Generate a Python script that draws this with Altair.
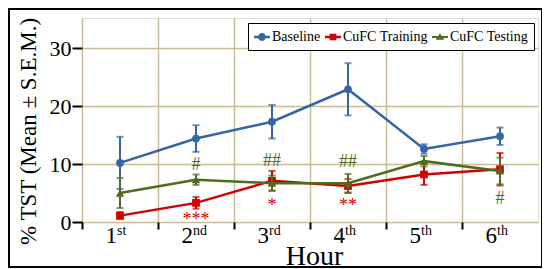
import altair as alt
import pandas as pd

hours = ["1", "2", "3", "4", "5", "6"]
sups = ["st", "nd", "rd", "th", "th", "th"]
series = ["Baseline", "CuFC Training", "CuFC Testing"]
colors = ["#3565a3", "#d20000", "#4e6b1f"]

baseline_mean = [10.2, 14.4, 17.3, 22.9, 12.6, 14.8]
baseline_sem = [4.5, 2.3, 2.9, 4.5, 0.8, 1.5]
train_mean = [1.1, 3.3, 7.1, 6.2, 8.2, 9.1]
train_sem = [0.6, 1.0, 1.7, 1.2, 1.8, 2.8]
test_mean = [5.0, 7.3, 6.7, 6.7, 10.5, 8.8]
test_sem = [2.6, 0.9, 1.3, 1.6, 0.9, 2.3]

ann_hour = ["2", "3", "4", "2", "3", "4", "6"]
ann_series = ["CuFC Training", "CuFC Training", "CuFC Training",
              "CuFC Testing", "CuFC Testing", "CuFC Testing", "CuFC Testing"]
ann_value = [0.4, 2.7, 2.7, 9.8, 10.5, 10.3, 4.0]
ann_text = ["***", "*", "**", "#", "##", "##", "#"]

rows = []
for s, m, e in [(series[0], baseline_mean, baseline_sem),
                (series[1], train_mean, train_sem),
                (series[2], test_mean, test_sem)]:
    for h, mv, ev in zip(hours, m, e):
        rows.append({"series": s, "hour": h, "mean": mv, "lo": mv - ev, "hi": mv + ev})
df = pd.DataFrame(rows)
ann = pd.DataFrame({"hour": ann_hour, "series": ann_series, "v": ann_value, "t": ann_text})
labels = pd.DataFrame({"hour": hours, "sup": sups})

W, H = 456, 204
serif = "Liberation Serif"

xsc = alt.Scale(domain=hours, paddingInner=0, paddingOuter=0)
ysc = alt.Scale(domain=[0, 35.2], nice=False)
csc = alt.Scale(domain=series, range=colors)

xax = alt.Axis(title="Hour", labels=False, bandPosition=0, tickSize=7, tickWidth=2,
               tickColor="black", domain=False, grid=True, gridColor="#c9bd95",
               gridWidth=1.5, titleFont=serif, titleFontSize=28, titleFontWeight="normal",
               titleBaseline="alphabetic", titleY=42, titleX=232, titleColor="black")
yax = alt.Axis(title="% TST (Mean \u00b1 S.E.M.)", values=[0, 10, 20, 30], tickSize=10,
               tickWidth=2, tickColor="black", domain=False, grid=True, gridColor="#c9bd95",
               gridWidth=1.5, labelFont=serif, labelFontSize=22, labelColor="black",
               labelPadding=1, titleFont=serif, titleFontSize=23, titleFontWeight="normal",
               titleColor="black", titleX=-42, titleY=113)

base = alt.Chart(df)
x = alt.X("hour:N", scale=xsc, axis=xax, sort=hours)

legend_paths = {
    "Baseline": "M-1,-0.16L-0.44,-0.16A0.46,0.46 0 0,1 0.44,-0.16L1,-0.16L1,0.16L0.44,0.16A0.46,0.46 0 0,1 -0.44,0.16L-1,0.16Z",
    "CuFC Training": "M-1,-0.16L-0.42,-0.16L-0.42,-0.42L0.42,-0.42L0.42,-0.16L1,-0.16L1,0.16L0.42,0.16L0.42,0.42L-0.42,0.42L-0.42,0.16L-1,0.16Z",
    "CuFC Testing": "M-1,-0.14L-0.2,-0.14L0,-0.5L0.2,-0.14L1,-0.14L1,0.14L0.45,0.14L0.5,0.35L-0.5,0.35L-0.45,0.14L-1,0.14Z",
}

leg = dict(title=None, orient="none", legendX=166, legendY=5, direction="horizontal", columns=3,
           fillColor="white", strokeColor="black", padding=6, labelFont=serif, labelFontSize=14,
           labelColor="black", symbolSize=256, symbolStrokeWidth=0, columnPadding=4, labelOffset=2)

legend_layer = base.transform_filter("datum.mean > 1000").mark_point(filled=True, opacity=1).encode(
    x=alt.X("hour:N", scale=xsc, axis=xax, sort=hours),
    y=alt.Y("mean:Q", scale=ysc, axis=yax),
    color=alt.Color("series:N", scale=csc, legend=alt.Legend(**leg)),
    shape=alt.Shape("series:N", scale=alt.Scale(domain=series, range=[legend_paths[s] for s in series]),
                    legend=alt.Legend(**leg)),
)

layers = [legend_layer]
shapes = ["circle", "square", "triangle-up"]
sizes = [60, 60, 70]
for s, shp, sz in zip(series, shapes, sizes):
    d = base.transform_filter(alt.datum.series == s)
    col = colors[series.index(s)]
    layers.append(d.mark_line(strokeWidth=2.5, color=col).encode(x=x, y=alt.Y("mean:Q", scale=ysc, axis=yax)))
    layers.append(d.mark_rule(strokeWidth=2, color=col).encode(x=x, y=alt.Y("lo:Q", scale=ysc, axis=yax), y2="hi:Q"))
    layers.append(d.mark_tick(thickness=2, size=7, color=col, orient="horizontal").encode(x=x, y=alt.Y("lo:Q", scale=ysc, axis=yax)))
    layers.append(d.mark_tick(thickness=2, size=7, color=col, orient="horizontal").encode(x=x, y=alt.Y("hi:Q", scale=ysc, axis=yax)))
    layers.append(d.mark_point(shape=shp, size=sz, filled=True, opacity=1, color=col).encode(x=x, y=alt.Y("mean:Q", scale=ysc, axis=yax)))

layers.append(alt.Chart(ann).mark_text(font=serif, fontSize=18, baseline="middle").encode(
    x=alt.X("hour:N", scale=xsc, sort=hours, axis=xax), y=alt.Y("v:Q", scale=ysc, axis=yax),
    text="t:N", color=alt.Color("series:N", scale=csc, legend=None)))

layers.append(alt.Chart(labels).mark_text(font=serif, fontSize=23, align="right", baseline="alphabetic", dx=-3, color="black").encode(
    x=alt.X("hour:N", scale=xsc, sort=hours, axis=xax), y=alt.value(H + 21), text="hour:N"))
layers.append(alt.Chart(labels).mark_text(font=serif, fontSize=14, align="left", baseline="alphabetic", dx=-3, color="black").encode(
    x=alt.X("hour:N", scale=xsc, sort=hours, axis=xax), y=alt.value(H + 13), text="sup:N"))

frame = alt.Chart(labels).mark_rect(fill=None, stroke="black", strokeWidth=2).encode(
    x=alt.value(-73), x2=alt.value(W + 4), y=alt.value(-9), y2=alt.value(H + 45))
layers.append(frame)

chart = alt.layer(*layers).properties(
    width=W, height=H, autosize=alt.AutoSizeParams(type="none"),
    padding={"left": 74, "top": 10, "right": 4, "bottom": 47},
).configure_view(stroke="black", strokeWidth=2.5).configure(background="white").configure_legend(
    labelFont=serif, labelFontSize=14, labelColor="black"
).configure_axis(titleFont=serif, labelFont=serif, titleFontWeight="normal", titleColor="black")

chart.save("out.html", embed_options={"renderer": "svg", "actions": False})
